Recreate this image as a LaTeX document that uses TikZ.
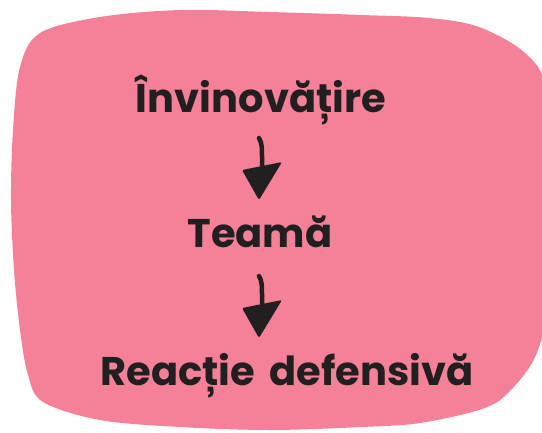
\documentclass[tikz,border=0pt]{standalone}
\usepackage{fontspec}
\setmainfont{Poppins}[WordSpace=1.7]
\usepackage{tikz}
\usetikzlibrary{calc}
\definecolor{blobpink}{RGB}{244,129,151}
\definecolor{ink}{RGB}{34,31,32}

\begin{document}
\begin{tikzpicture}[
    x=1pt, y=-1pt,
    lbl/.style={anchor=base, inner sep=0pt, text=ink,
      font=\fontsize{40}{44}\selectfont\bfseries},
    stem/.style={draw=ink, line width=4.5pt, line cap=round},
    head/.style={fill=ink, rounded corners=1.5pt}
  ]
  \useasboundingbox (0,0) rectangle (542,432);

  % Background blob
  \fill[blobpink] plot[smooth cycle, tension=0.55] coordinates {
    (40,33) (100,17) (180,10) (270,12) (362,15) (429,18) (479,27)
    (525,53) (546,90) (550,200) (548,300) (536,355) (509,392)
    (482,409) (420,423) (362,427) (270,430) (180,427) (100,420)
    (43,402) (28,375) (20,330) (14,270) (11,200) (13,130) (20,67)};

  % Labels (top to bottom)
  \node[lbl] (inv) at (261,112) {Învinovățire};
  \node[lbl] (tea) at (260,247) {Teamă};
  \node[lbl] (rea) at (287,385) {Reacție defensivă};

  % Arrows
  \foreach \b in {tea, rea} {
    \coordinate (tip) at ([xshift=-1pt, yshift=47pt]\b.base -| tea.base);
    \begin{scope}[shift={(tip)}]
      \draw[stem] (0,-62) .. controls (3,-57) and (3,-52) .. (3,-44) -- (3,-32);
      \fill[head] (-17,-30) -- (23,-38) -- (0,0) -- cycle;
    \end{scope}
  }
\end{tikzpicture}
\end{document}
